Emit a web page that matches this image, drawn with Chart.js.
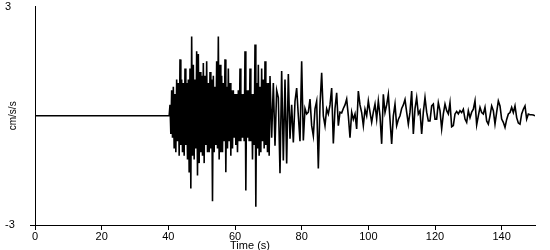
<!DOCTYPE html>
<html><head><meta charset="utf-8">
<script src="https://cdn.jsdelivr.net/npm/chart.js@4"></script>
<style>html,body{margin:0;padding:0;background:#fff;}#wrap{width:550px;height:250px;}</style>
</head><body><div id="wrap"><canvas id="c" width="550" height="250"></canvas></div>
<script>
// quiet pre-event record (s, cm/s/s)
const quietTimes = [0, 40.25];
const quietValues = [0, 0];

// strong-motion part, sampled every 0.25 s from 40.5 s (one row = one second)
const strongStart = 40.5;
const strongStep = 0.25;
const strongValues = [
  0.3, -0.5, 0.7, -0.6,
  0.8, -0.9, 0.6, -1.0,
  1.0, -0.7, 0.9, -1.1,
  1.55, -0.8, 1.0, -1.0,
  0.9, -1.1, 1.3, -0.8,
  0.9, -1.2, 1.0, -1.56,
  1.3, -2.0, 2.18, -1.1,
  1.4, -1.2, 1.0, -0.9,
  1.77, -1.64, 1.7, -1.3,
  1.2, -1.0, 1.1, -1.1,
  1.45, -1.3, 1.1, -0.8,
  1.5, -1.0, 0.9, -1.0,
  1.2, -0.9, 1.0, -2.35,
  1.1, -1.0, 0.8, -0.8,
  1.5, -0.9, 2.18, -1.2,
  1.4, -1.0, 1.1, -1.0,
  0.9, -0.7, 1.55, -1.55,
  0.8, -0.9, 1.3, -0.7,
  0.9, -1.1, 0.7, -0.9,
  0.7, -0.6, 0.6, -0.8,
  0.6, -1.0, 0.7, -0.7,
  1.3, -0.7, 0.6, -0.6,
  0.6, -0.7, 1.77, -2.05,
  0.7, -0.6, 0.7, -0.7,
  1.3, -0.7, 0.6, -1.2,
  0.6, -0.8, 1.96, -2.5,
  0.9, -0.9, 1.4, -1.1,
  0.8, -1.0, 1.3, -0.7,
  1.0, -0.9, 1.5, -0.8,
  0.9, -1.0, 0.9, -1.1
];

// coda, sampled every 0.5 s from 70.5 s to 150 s (one row = five seconds)
const codaStart = 70.5;
const codaStep = 0.5;
const codaValues = [
  1.09, -0.6, 0.9, -0.82, 0.7, 0.5, -1.58, 1.23, -1.23, 1.0,
  -1.31, 1.15, -0.63, 0.3, -0.73, 0.4, 0.76, 0.0, -0.7, 1.5,
  -0.68, 0.2, 0.05, 0.1, 0.46, -0.27, -0.55, 0.19, 0.4, -1.45,
  0.3, 1.18, 0.0, -0.27, 0.19, 0.05, 0.3, 0.76, -0.76, 0.2,
  0.63, -0.27, 0.1, 0.08, 0.2, 0.3, 0.46, 0.0, -0.6, 0.1,
  -0.1, 0.05, -0.36, 0.68, 0.3, 0.09, -0.27, 0.18, 0.0, 0.41,
  0.1, -0.18, 0.1, 0.32, -0.09, 0.41, 0.0, -0.77, 0.59, 0.09,
  0.3, 0.59, -0.1, -0.77, 0.0, 0.32, -0.27, -0.1, 0.0, 0.2,
  0.3, 0.45, 0.1, -0.23, 0.1, 0.68, -0.5, 0.2, 0.5, 0.05,
  0.14, -0.5, 0.1, 0.5, 0.1, -0.14, -0.14, 0.27, 0.32, -0.09,
  -0.09, 0.36, 0.14, -0.36, 0.05, 0.32, 0.14, 0.05, 0.36, -0.3,
  -0.27, 0.05, 0.12, 0.05, 0.14, 0.09, 0.18, -0.09, -0.18, 0.14,
  -0.05, 0.1, 0.18, 0.41, -0.25, 0.0, 0.23, 0.09, 0.05, 0.23,
  -0.14, -0.23, 0.0, 0.27, 0.14, -0.23, 0.1, 0.41, 0.27, -0.09,
  -0.18, -0.32, -0.1, 0.05, 0.09, 0.23, 0.09, 0.27, -0.05, -0.2,
  -0.23, 0.05, 0.18, 0.27, -0.09, 0.05, 0.03, 0.03, 0.02, 0.0
];

const xTicks = [0, 20, 40, 60, 80, 100, 120, 140];
const yTicks = [-3, 3];
const xTitle = 'Time (s)';
const yTitle = 'cm/s/s';

const points = [];
quietTimes.forEach((t, i) => points.push({x: t, y: quietValues[i]}));
strongValues.forEach((v, i) => points.push({x: strongStart + i * strongStep, y: v}));
codaValues.forEach((v, i) => points.push({x: codaStart + i * codaStep, y: v}));

Chart.defaults.font.family = '"Liberation Sans", Arial, sans-serif';
Chart.defaults.color = '#000';

const xTitlePlugin = {
  id: 'xTitle',
  afterDraw(chart) {
    const c = chart.ctx;
    c.save();
    c.font = '11px "Liberation Sans", Arial, sans-serif';
    c.fillStyle = '#000';
    c.textAlign = 'center';
    c.textBaseline = 'middle';
    c.fillText(xTitle, 250, 246);
    c.restore();
  }
};

new Chart(document.getElementById('c'), {
  type: 'line',
  data: {datasets: [{data: points, borderColor: '#000', borderWidth: 1.6, pointRadius: 0, tension: 0, fill: false, borderJoinStyle: 'miter'}]},
  options: {
    responsive: false, animation: false, devicePixelRatio: 1,
    layout: {padding: {left: 5, right: 15, top: 5, bottom: 0}},
    plugins: {legend: {display: false}, tooltip: {enabled: false}},
    scales: {
      x: {
        type: 'linear', min: 0, max: 150,
        afterBuildTicks: s => { s.ticks = xTicks.map(v => ({value: v})); },
        afterFit: s => { s.height = 25; },
        grid: {drawOnChartArea: false, tickLength: 5, color: '#000', lineWidth: 1},
        border: {display: true, color: '#000', width: 1},
        ticks: {padding: 0, color: '#000', font: {size: 11}, maxRotation: 0, autoSkip: false}
      },
      y: {
        type: 'linear', min: -3, max: 3,
        afterBuildTicks: s => { s.ticks = yTicks.map(v => ({value: v})); },
        afterFit: s => { s.width = 30; },
        grid: {drawOnChartArea: false, tickLength: 5, lineWidth: 1,
               color: c => (c.tick && c.tick.value === 3) ? 'rgba(0,0,0,0)' : '#000'},
        border: {display: true, color: '#000', width: 1},
        ticks: {crossAlign: 'far', padding: 0, color: '#000', font: {size: 11}, autoSkip: false},
        title: {display: true, text: yTitle, color: '#000', font: {size: 10}, padding: {top: 2, bottom: 0}}
      }
    }
  },
  plugins: [xTitlePlugin]
});
</script>
</body></html>
